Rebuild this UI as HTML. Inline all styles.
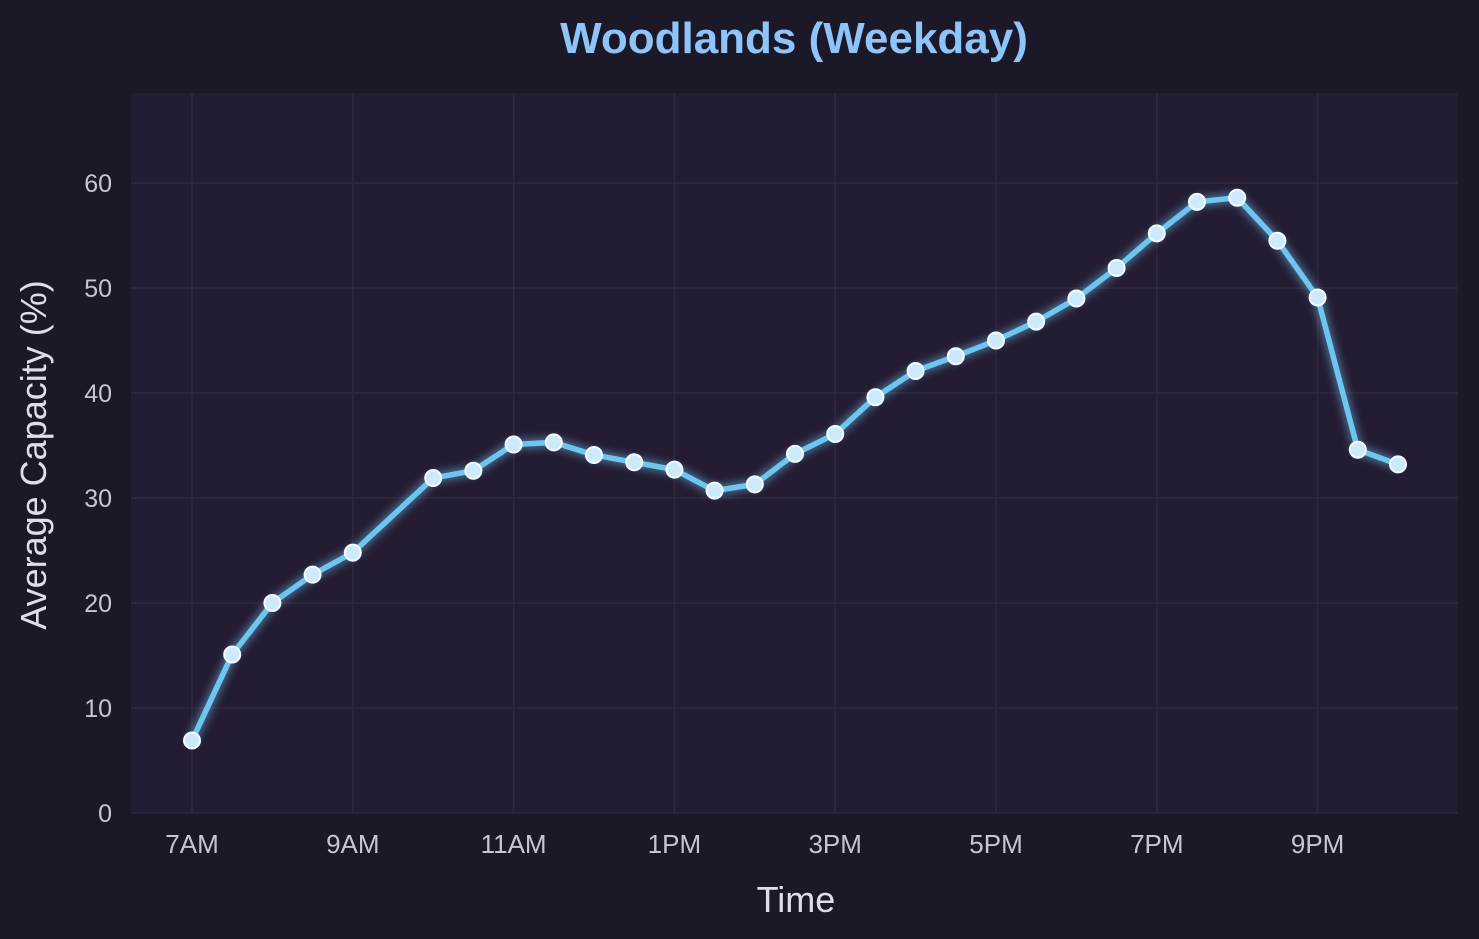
<!DOCTYPE html>
<html><head><meta charset="utf-8"><style>
html,body{margin:0;padding:0;background:#1b1828;}
svg{display:block;font-family:"Liberation Sans",Arial,sans-serif;}
</style></head><body>
<svg id="chart" width="1479" height="939">
<defs><filter id="glow" x="-10%" y="-10%" width="120%" height="120%"><feGaussianBlur stdDeviation="4"/></filter></defs>
<rect width="1479" height="939" fill="#1b1828"/>
<rect x="131" y="93" width="1327" height="720" fill="#241c33"/>
<text x="794" y="53" text-anchor="middle" font-size="44" font-weight="bold" fill="#8fc4fb">Woodlands (Weekday)</text>
<text x="796" y="912" text-anchor="middle" font-size="36" fill="#e0dce8">Time</text>
<text transform="translate(46,455) rotate(-90)" text-anchor="middle" font-size="36" fill="#e0dce8">Average Capacity (%)</text>
<g id="grid"></g><g id="ticks"></g><g id="series"></g>
</svg>
<script>
const hours=[7,7.5,8,8.5,9,10,10.5,11,11.5,12,12.5,13,13.5,14,14.5,15,15.5,16,16.5,17,17.5,18,18.5,19,19.5,20,20.5,21,21.5,22];
const capacity=[6.9,15.1,20,22.7,24.8,31.9,32.6,35.1,35.3,34.1,33.4,32.7,30.7,31.3,34.2,36.1,39.6,42.1,43.5,45,46.8,49,51.9,55.2,58.2,58.6,54.5,49.1,34.6,33.2];
const yTicks=[0,10,20,30,40,50,60];
const xTickHours=[7,9,11,13,15,17,19,21];
const xTickLabels=["7AM","9AM","11AM","1PM","3PM","5PM","7PM","9PM"];
const NS="http://www.w3.org/2000/svg";
const X=h=>192+(h-7)*80.4;
const Y=v=>813-v*10.5;
function mk(tag,attrs,parent){const e=document.createElementNS(NS,tag);for(const k in attrs)e.setAttribute(k,attrs[k]);document.getElementById(parent).appendChild(e);return e;}
yTicks.forEach(v=>{
  const l=mk('line',{x1:131,x2:1458,y1:Y(v),y2:Y(v),stroke:'#2f2940','stroke-width':1.5},'grid');
  
  
  const t=mk('text',{x:112,y:Y(v)+9,'text-anchor':'end','font-size':25,fill:'#c9c4d4'},'ticks');
  t.textContent=v;
  
  
});
xTickHours.forEach((h,i)=>{
  const l=mk('line',{x1:X(h),x2:X(h),y1:93,y2:813,stroke:'#2f2940','stroke-width':1.5},'grid');
  
  
  const t=mk('text',{x:X(h),y:853,'text-anchor':'middle','font-size':26,fill:'#c9c4d4'},'ticks');
  t.textContent=xTickLabels[i];
  
  
});
const d=hours.map((h,i)=>(i?'L':'M')+X(h)+','+Y(capacity[i])).join(' ');
const g=mk('path',{d:d,fill:'none',stroke:'#6ec6f0','stroke-width':11,opacity:0.45,filter:'url(#glow)'},'series');


const p=mk('path',{d:d,fill:'none',stroke:'#6ec6f0','stroke-width':5.5,'stroke-linejoin':'round'},'series');


hours.forEach((h,i)=>{
  const c=mk('circle',{cx:X(h),cy:Y(capacity[i]),r:8,fill:'#cdeafc',stroke:'#f4faff','stroke-width':2},'series');
  
  
});
</script>
</body></html>
